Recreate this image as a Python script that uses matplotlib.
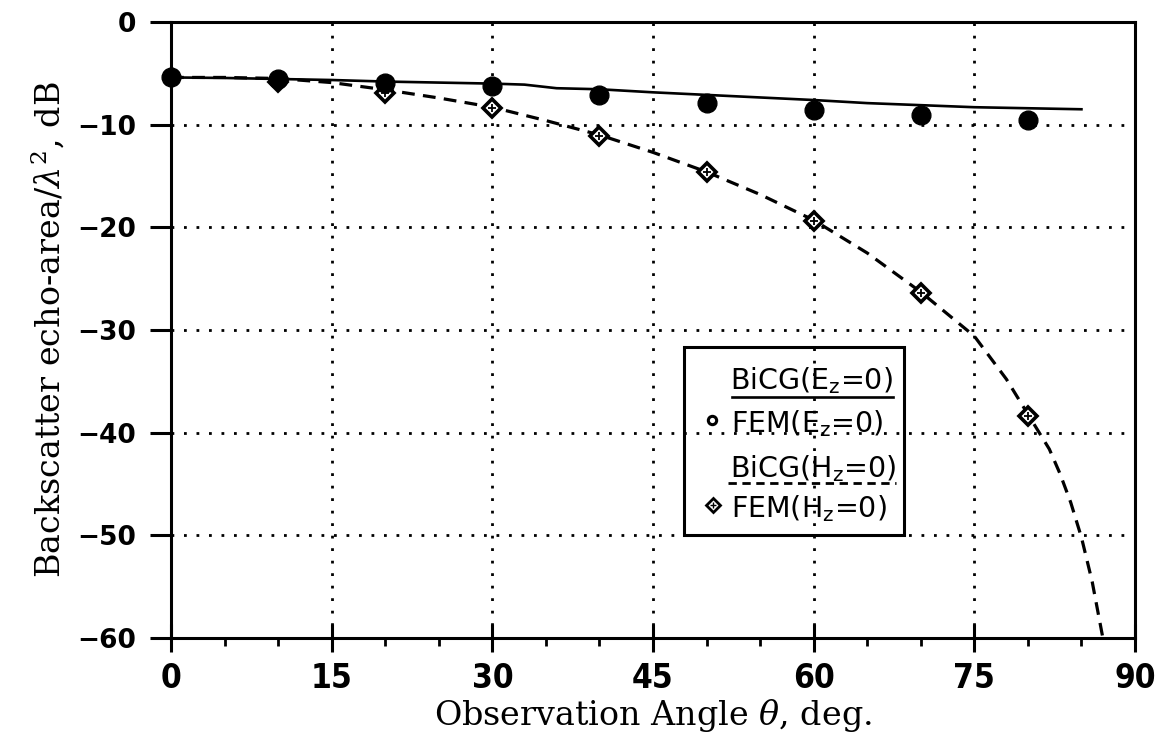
import numpy as np
import matplotlib
matplotlib.use('Agg')
import matplotlib.pyplot as plt
from matplotlib.patches import Rectangle
from matplotlib.lines import Line2D

plt.rcParams['mathtext.fontset'] = 'dejavuserif'

# Datos
ang_fem = [0, 10, 20, 30, 40, 50, 60, 70, 80]
fem_e = [-5.4, -5.6, -5.9, -6.2, -7.1, -7.9, -8.6, -9.05, -9.5]
fem_h = [-5.4, -5.8, -6.9, -8.4, -11.1, -14.6, -19.4, -26.4, -38.4]

ang_bicg_e = [0, 5, 10, 15, 20, 25, 30, 33, 36, 40, 45, 50, 55, 60, 65, 70, 75, 80, 85]
bicg_e = [-5.4, -5.45, -5.55, -5.65, -5.8, -5.9, -6.0, -6.1, -6.45, -6.55,
          -6.85, -7.1, -7.35, -7.6, -7.9, -8.1, -8.3, -8.4, -8.5]

ang_bicg_h = [0, 5, 10, 15, 20, 25, 30, 35, 40, 45, 50, 55, 60, 65, 70, 75,
              78, 80, 82, 83, 84, 85, 86, 87]
bicg_h = [-5.4, -5.4, -5.5, -5.9, -6.6, -7.4, -8.3, -9.6, -11.0, -12.7, -14.6,
          -16.8, -19.3, -22.5, -26.3, -30.6, -34.8, -38.2, -41.6, -44.0, -46.8,
          -50.2, -54.5, -60.0]

xticks = [0, 15, 30, 45, 60, 75, 90]
yticks = [0, -10, -20, -30, -40, -50, -60]

fig = plt.figure(figsize=(11.73, 7.46), dpi=100)
ax = fig.add_axes([0.1458, 0.1448, 0.8218, 0.8257])

# Rejilla punteada
for xv in xticks[1:-1]:
    ax.axvline(xv, color='black', lw=2.0, ls=(0, (1, 3.5)), zorder=1)
for yv in yticks[1:-1]:
    ax.axhline(yv, color='black', lw=2.0, ls=(0, (1, 3.5)), zorder=1)

ax.plot(ang_bicg_e, bicg_e, color='black', lw=1.9, zorder=3)
ax.plot(ang_bicg_h, bicg_h, color='black', lw=2.3, ls=(0, (4, 2.6)), zorder=3)
ax.plot(ang_fem, fem_h, 'D', mfc='white', mec='black', mew=2.6, ms=9, zorder=4)
ax.plot(ang_fem, fem_h, '+', color='black', mew=1.3, ms=6, zorder=5)
ax.plot(ang_fem, fem_e, 'o', color='black', ms=13.5, zorder=6, clip_on=False)

ax.set_xlim(0, 90)
ax.set_ylim(-60, 0)
ax.set_xticks(xticks)
ax.set_xticks(np.arange(0, 91, 5), minor=True)
ax.set_yticks(yticks)
ax.set_yticklabels(['0', '\u221210', '\u221220', '\u221230', '\u221240', '\u221250', '\u221260'])

for s in ax.spines.values():
    s.set_linewidth(2.2)

ax.tick_params(axis='y', which='major', direction='out', length=15, width=2.2,
               pad=10, labelsize=19)
ax.tick_params(axis='x', which='major', direction='inout', length=20, width=2.2,
               pad=7, labelsize=24)
ax.tick_params(axis='x', which='minor', direction='out', length=6, width=2.0)
for lab in ax.get_yticklabels():
    lab.set_fontweight('bold')
for lab in ax.get_xticklabels():
    lab.set_family('DejaVu Sans')
    lab.set_fontstretch('condensed')
    lab.set_fontweight('bold')

ax.set_xlabel(r'Observation Angle $\theta$, deg.', family='DejaVu Serif',
              fontsize=24, labelpad=2)
ax.set_ylabel(r'Backscatter echo-area/$\lambda^{2}$, dB', family='DejaVu Serif',
              fontsize=24, labelpad=8)

# Leyenda dibujada a mano
T = ax.transAxes
ax.add_patch(Rectangle((0.532, 0.167), 0.228, 0.305, transform=T, fill=False,
                       lw=2.2, ec='black', zorder=7))
fs_leg = 20.5
ax.text(0.580, 0.404, r'BiCG(E$_{\mathsf{z}}$=0)', transform=T, fontsize=fs_leg,
        family='DejaVu Sans', va='baseline', zorder=8)
ax.add_line(Line2D([0.582, 0.749], [0.391, 0.391], transform=T, color='black',
                   lw=1.9, zorder=8))
ax.plot([0.561], [0.354], 'o', mfc='white', mec='black', mew=2.2, ms=6,
        transform=T, zorder=8)
ax.text(0.581, 0.334, r'FEM(E$_{\mathsf{z}}$=0)', transform=T, fontsize=fs_leg,
        family='DejaVu Sans', va='baseline', zorder=8)
ax.text(0.580, 0.261, r'BiCG(H$_{\mathsf{z}}$=0)', transform=T, fontsize=fs_leg,
        family='DejaVu Sans', va='baseline', zorder=8)
ax.add_line(Line2D([0.578, 0.752], [0.2516, 0.2516], transform=T, color='black',
                   lw=2.0, ls=(0, (3, 2)), zorder=8))
ax.plot([0.562], [0.216], 'D', mfc='white', mec='black', mew=2.0, ms=7,
        transform=T, zorder=8)
ax.plot([0.562], [0.216], '+', color='black', mew=1.0, ms=5, transform=T, zorder=9)
ax.text(0.581, 0.195, r'FEM(H$_{\mathsf{z}}$=0)', transform=T, fontsize=fs_leg,
        family='DejaVu Sans', va='baseline', zorder=8)

fig.savefig('out.png', dpi=100)
